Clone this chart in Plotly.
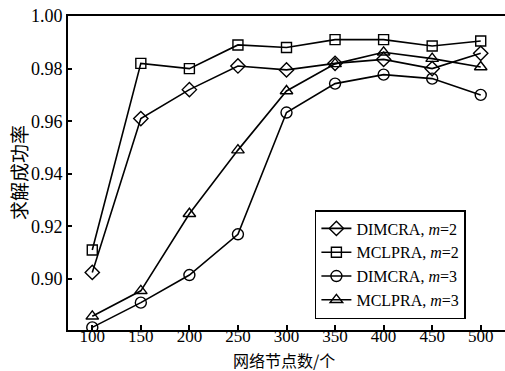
import plotly.graph_objects as go

nodes = [100, 150, 200, 250, 300, 350, 400, 450, 500]
dimcra_m2 = [0.9025, 0.961, 0.972, 0.981, 0.9795, 0.982, 0.9835, 0.980, 0.9858]
mclpra_m2 = [0.911, 0.982, 0.980, 0.989, 0.988, 0.991, 0.991, 0.9886, 0.9905]
dimcra_m3 = [0.8816, 0.891, 0.9015, 0.917, 0.9633, 0.9743, 0.9777, 0.9762, 0.970]
mclpra_m3 = [0.8858, 0.8955, 0.9248, 0.949, 0.9715, 0.9818, 0.9862, 0.9838, 0.9806]
y_ticks = [0.90, 0.92, 0.94, 0.96, 0.98, 1.00]

series = [
    ("DIMCRA, <i>m</i>=2", dimcra_m2, "diamond-open", 11),
    ("MCLPRA, <i>m</i>=2", mclpra_m2, "square-open", 10),
    ("DIMCRA, <i>m</i>=3", dimcra_m3, "circle-open", 11),
    ("MCLPRA, <i>m</i>=3", mclpra_m3, "triangle-up-open", 11),
]

fig = go.Figure()
for name, ys, sym, sz in series:
    fig.add_trace(go.Scatter(
        x=nodes, y=ys, name=name, mode="lines+markers",
        line=dict(color="black", width=1.6),
        marker=dict(symbol=sym, size=sz, color="black", line=dict(width=1.4, color="black")),
    ))

font = "Times New Roman, Liberation Serif, DejaVu Serif, serif"
cjk = "Noto Sans CJK SC"

W, H = 505, 371
l, r, t, b = 68, 0, 16, 41
pw, ph = W - l - r, H - t - b

fig.update_layout(
    width=W, height=H,
    margin=dict(l=l, r=r, t=t, b=b, autoexpand=False),
    paper_bgcolor="white", plot_bgcolor="white",
    font=dict(family=font, size=18, color="black"),
    showlegend=True,
    legend=dict(
        x=0.565, y=0.035, xanchor="left", yanchor="bottom",
        bordercolor="black", borderwidth=1.5, bgcolor="white",
        font=dict(family=font, size=16, color="black"),
        tracegroupgap=0, itemwidth=30,
    ),
    xaxis=dict(
        range=[75, 525], tickvals=nodes, ticks="inside", ticklen=5, tickwidth=1.5,
        tickcolor="black", showline=True, linecolor="black", linewidth=2,
        mirror=True, showgrid=False, zeroline=False, ticklabelstandoff=-10,
        tickfont=dict(family=font, size=17),
    ),
    yaxis=dict(
        range=[0.8806, 1.0], tickvals=y_ticks, tickformat=".2f",
        ticks="inside", ticklen=4, tickwidth=1.5, tickcolor="black",
        showline=True, linecolor="black", linewidth=2, showgrid=False, zeroline=False,
        tickfont=dict(family=font, size=18),
    ),
)
fig.add_annotation(text="网络节点数/个", x=(284 - l) / pw, y=(H - b - 360) / ph,
                   xref="paper", yref="paper", xanchor="center", yanchor="middle",
                   showarrow=False, font=dict(family=cjk, size=16))
fig.add_annotation(text="求解成功率", x=(18 - l) / pw, y=(H - b - 173) / ph,
                   xref="paper", yref="paper", xanchor="center", yanchor="middle",
                   textangle=-90, showarrow=False, font=dict(family=cjk, size=19))

fig.write_html("out.html", config={"displayModeBar": False},
               post_script="document.body.style.margin='0';document.body.style.overflow='hidden';")
